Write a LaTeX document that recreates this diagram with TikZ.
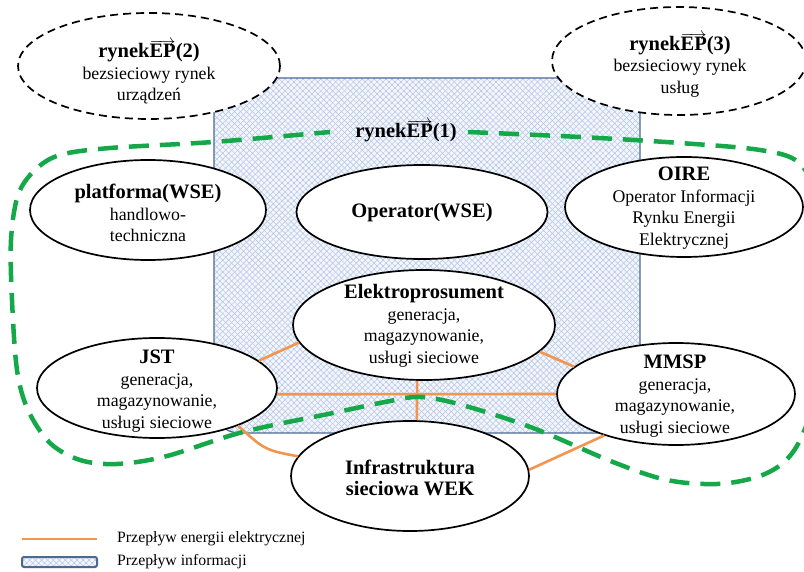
\documentclass[tikz,border=0pt]{standalone}
\usepackage{fontspec}
\setmainfont{Liberation Serif}
\usetikzlibrary{shapes.geometric,patterns.meta}
\definecolor{eorange}{RGB}{242,150,78}
\definecolor{egreen}{RGB}{20,168,72}
\definecolor{iblue}{RGB}{78,104,150}
\definecolor{ihatch}{RGB}{178,196,228}
\definecolor{ifill}{RGB}{243,246,252}
\newcommand\bodyfnt{\fontsize{17.8}{21.5}\selectfont}
\newcommand\ttlfnt{\fontsize{20.5}{24}\selectfont\bfseries}
\newcommand\legfnt{\fontsize{15.8}{18}\selectfont}
\newcommand\ovarr[1]{\leavevmode\vbox{\offinterlineskip\ialign{##\crcr{\fontsize{17}{17}\selectfont\rightarrowfill}\crcr\noalign{\kern-2pt}\hbox{#1}\crcr}}}
\begin{document}
\begin{tikzpicture}[x=1pt,y=-1pt,
  ell/.style={ellipse, draw=black, line width=1.7pt, fill=white, inner sep=0pt},
  dell/.style={ellipse, draw=black, line width=1.7pt, dash pattern=on 8pt off 5pt, fill=white, inner sep=0pt},
  txt/.style={align=center, font=\bodyfnt, inner sep=0pt},
  energy/.style={draw=eorange, line width=2.6pt},
  grn/.style={draw=egreen, line width=4.5pt, dash pattern=on 20pt off 11pt},
  hatchA/.style={pattern={Lines[angle=45,distance=4.2pt,line width=0.5pt]}, pattern color=ihatch},
  hatchB/.style={pattern={Lines[angle=-45,distance=4.2pt,line width=0.5pt]}, pattern color=ihatch}
]
\useasboundingbox (0,0) rectangle (804,572);
\fill[white] (0,0) rectangle (804,572);

% information-flow area
\path[fill=ifill, rounded corners=25pt] (214,78) rectangle (640,433);
\path[hatchA, rounded corners=25pt] (214,78) rectangle (640,433);
\path[hatchB, rounded corners=25pt] (214,78) rectangle (640,433);
\draw[iblue, line width=1.2pt, rounded corners=25pt] (214,78) rectangle (640,433);

\begin{scope}
\clip (0,0) rectangle (804,572);
% dashed market ellipses
\node[dell, minimum width=262pt, minimum height=106pt] (ep2) at (149,66) {};
\node[dell, minimum width=254pt, minimum height=108pt] (ep3) at (679,61) {};

% main ellipses
\node[ell, minimum width=236pt, minimum height=100pt] (plat) at (148,210) {};
\node[ell, minimum width=251pt, minimum height=94pt] (oper) at (422,212) {};
\node[ell, minimum width=238pt, minimum height=100pt] (oire) at (684,207) {};
\node[ell, minimum width=262pt, minimum height=110pt] (elek) at (424,325) {};
\node[ell, minimum width=240pt, minimum height=100pt] (jst) at (157,388) {};
\node[ell, minimum width=238pt, minimum height=102pt] (mmsp) at (676,394) {};
\node[ell, minimum width=238pt, minimum height=110pt] (infra) at (410,476) {};

% energy flows
\draw[energy] (jst.15) -- (elek.188);
\draw[energy] (elek.-13) -- (mmsp.165);
\draw[energy] (jst.-3) -- (mmsp.180);
\draw[energy] (elek.263) -- (infra.83);
\draw[energy] (jst.-25) .. controls +(25,22) and +(-35,-6) .. (infra.170);
\draw[energy] (infra.3) -- (mmsp.210);

% green dashed boundary
\draw[grn] plot[smooth, tension=0.55] coordinates {
 (468,132) (580,137) (680,143) (760,150) (798,162) (812,195) (816,300) (812,400)
 (800,440) (783,463) (757,477) (717,484) (667,480) (613,462) (533,428) (462,405)
 (420,397) (385,402) (333,413) (243,432) (167,456) (117,464) (80,460) (50,443)
 (28,410) (17,370) (12,300) (11,240) (18,195) (35,170) (60,155) (110,148)
 (213,142) (330,132)};
\end{scope}

% texts
\node[txt] (t-ep2) at (149,72) {{\ttlfnt rynek\ovarr{EP}(2)}\\bezsieciowy rynek\\urządzeń};
\node[txt] (t-ep3) at (680,65) {{\ttlfnt rynek\ovarr{EP}(3)}\\bezsieciowy rynek\\usług};
\node[txt] (t-ep1) at (406,131) {{\ttlfnt rynek\ovarr{EP}(1)}};
\node[txt] (t-plat) at (148,213) {{\ttlfnt platforma(WSE)}\\handlowo-\\techniczna};
\node[txt] (t-oper) at (422,213) {{\ttlfnt Operator(WSE)}};
\node[txt] (t-oire) at (684,208) {{\ttlfnt OIRE}\\Operator Informacji\\Rynku Energii\\Elektrycznej};
\node[txt] (t-elek) at (424,326) {{\ttlfnt Elektroprosument}\\generacja,\\magazynowanie,\\usługi sieciowe};
\node[txt] (t-jst) at (157,391) {{\ttlfnt JST}\\generacja,\\magazynowanie,\\usługi sieciowe};
\node[txt] (t-mmsp) at (675,396) {{\ttlfnt MMSP}\\generacja,\\magazynowanie,\\usługi sieciowe};
\node[txt] (t-infra) at (410,478) {{\ttlfnt Infrastruktura}\\{\ttlfnt sieciowa WEK}};

% legend
\coordinate (lgA) at (22,539);
\coordinate (lgB) at (97,539);
\draw[energy] (lgA) -- (lgB);
\path[fill=ifill, rounded corners=2pt] (22,557) rectangle (97,567);
\path[hatchA, rounded corners=2pt] (22,557) rectangle (97,567);
\path[hatchB, rounded corners=2pt] (22,557) rectangle (97,567);
\draw[iblue, line width=2pt, rounded corners=2pt] (22,557) rectangle (97,567);
\node[anchor=west, font=\legfnt, inner sep=0pt] (leg1) at (117,539) {Przepływ energii elektrycznej};
\node[anchor=west, font=\legfnt, inner sep=0pt] (leg2) at (117,562) {Przepływ informacji};
\end{tikzpicture}
\end{document}
